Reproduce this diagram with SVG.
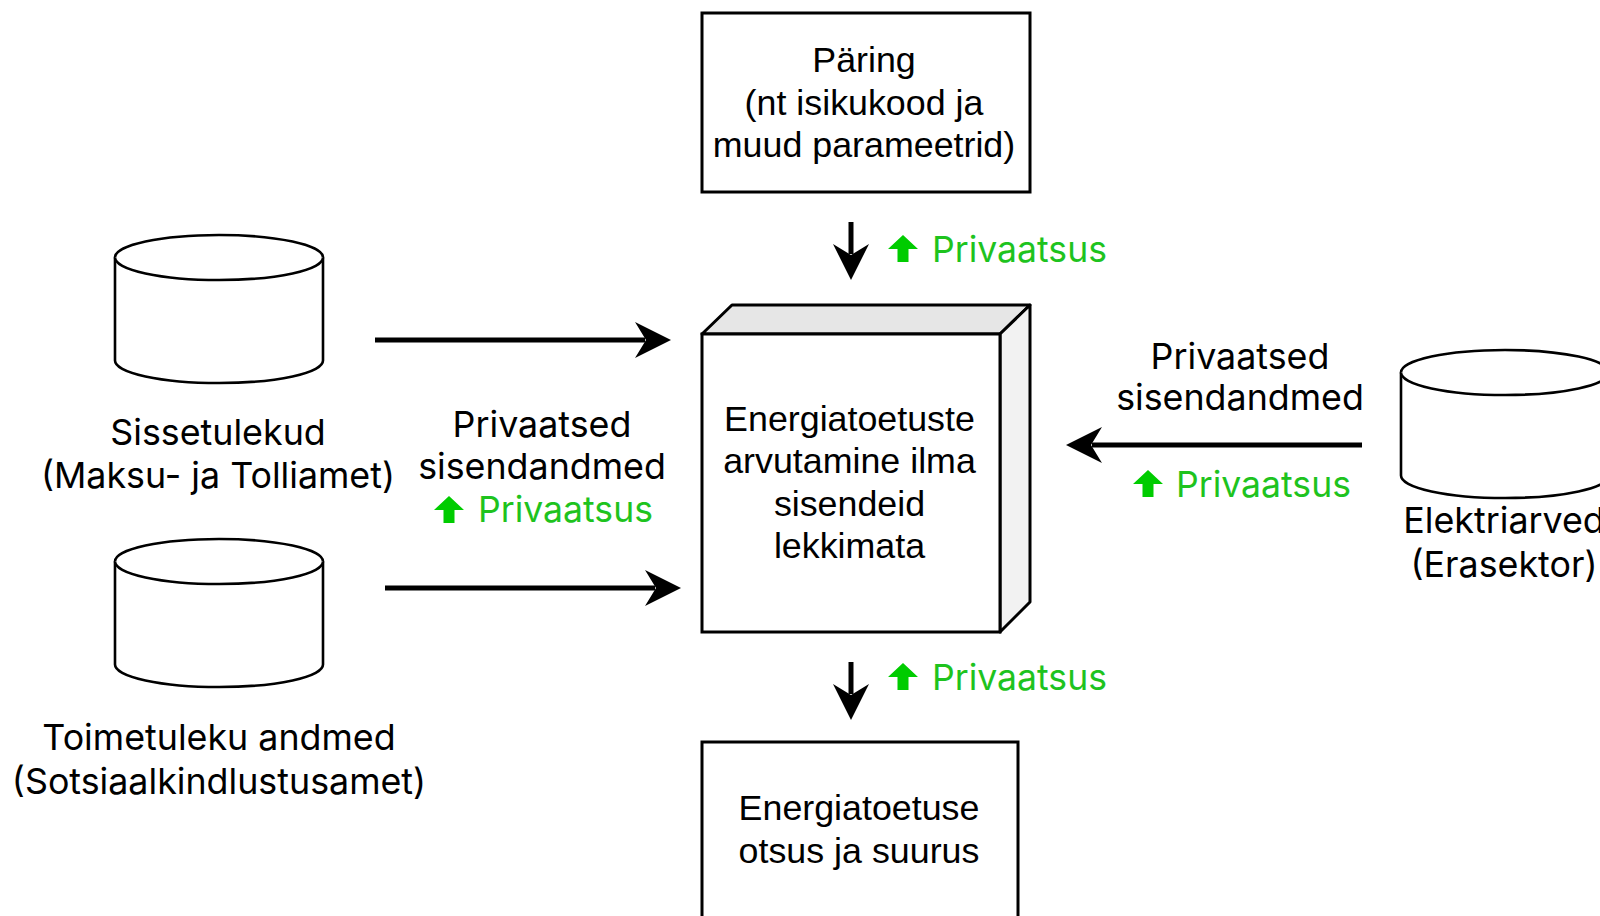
<svg xmlns="http://www.w3.org/2000/svg" width="1600" height="916" viewBox="0 0 1600 916">
<defs>
<style>
.box{fill:#fff;stroke:#000;stroke-width:3}
.cyl{fill:#fff;stroke:#000;stroke-width:2.6}
.bt{font-family:"Liberation Sans",Arial,sans-serif;font-size:35.8px;fill:#000;text-anchor:middle}
.lt{font-family:Inter,"Noto Sans",sans-serif;font-size:35.8px;fill:#000;text-anchor:middle}
.gt{font-family:Inter,"Noto Sans",sans-serif;font-size:35.6px;fill:#1ec31e}
.gi{fill:#00cc00}
.conn{stroke:#000;stroke-width:5;fill:none;marker-end:url(#ah)}
</style>
<marker id="ah" viewBox="0 0 36 36" refX="10" refY="18" markerWidth="36" markerHeight="36" markerUnits="userSpaceOnUse" orient="auto">
<path d="M0,0 L36,18 L0,36 L11,18 Z" fill="#000"/>
</marker>
<path id="up" d="M15,0 L30,14 L20.5,14 L20.5,27 L9.5,27 L9.5,14 L0,14 Z"/>
</defs>
<rect width="1600" height="916" fill="#fff"/>

<g id="query">
<rect class="box" x="702" y="13" width="328" height="179"/>
<text class="bt" x="864" y="72">Päring</text>
<text class="bt" x="864" y="115">(nt isikukood ja</text>
<text class="bt" x="864" y="157">muud parameetrid)</text>
</g>

<g id="compute">
<polygon points="702,334 732,305 1030,305 1000,334" fill="#e6e6e6" stroke="#000" stroke-width="3" stroke-linejoin="round"/>
<polygon points="1000,334 1030,305 1030,602 1000,632" fill="#f2f2f2" stroke="#000" stroke-width="3" stroke-linejoin="round"/>
<rect class="box" x="702" y="334" width="298" height="298"/>
<text class="bt" x="849.5" y="431">Energiatoetuste</text>
<text class="bt" x="849.5" y="473">arvutamine ilma</text>
<text class="bt" x="849.5" y="516">sisendeid</text>
<text class="bt" x="849.5" y="558">lekkimata</text>
</g>

<g id="result">
<rect class="box" x="702" y="742" width="316" height="190"/>
<text class="bt" x="859" y="820">Energiatoetuse</text>
<text class="bt" x="859" y="863">otsus ja suurus</text>
</g>

<g id="db-income">
<path class="cyl" d="M115,257.5 A104,22.5 0 0 1 323,257.5 V360.5 A104,22.5 0 0 1 115,360.5 Z"/>
<path class="cyl" fill="none" d="M115,257.5 A104,22.5 0 0 0 323,257.5"/>
<text class="lt" x="218" y="445">Sissetulekud</text>
<text class="lt" x="218" y="488">(Maksu- ja Tolliamet)</text>
</g>

<g id="db-subsistence">
<path class="cyl" d="M115,561.5 A104,22.5 0 0 1 323,561.5 V664.5 A104,22.5 0 0 1 115,664.5 Z"/>
<path class="cyl" fill="none" d="M115,561.5 A104,22.5 0 0 0 323,561.5"/>
<text class="lt" x="219" y="750">Toimetuleku andmed</text>
<text class="lt" x="219" y="794">(Sotsiaalkindlustusamet)</text>
</g>

<g id="db-electricity">
<path class="cyl" d="M1401,372.5 A104,22.5 0 0 1 1609,372.5 V475.5 A104,22.5 0 0 1 1401,475.5 Z"/>
<path class="cyl" fill="none" d="M1401,372.5 A104,22.5 0 0 0 1609,372.5"/>
<text class="lt" x="1504" y="533">Elektriarved</text>
<text class="lt" x="1504" y="577">(Erasektor)</text>
</g>

<g id="connectors">
<line class="conn" x1="851" y1="222" x2="851" y2="254"/>
<line class="conn" x1="375" y1="340" x2="645" y2="340"/>
<line class="conn" x1="385" y1="588" x2="655" y2="588"/>
<line class="conn" x1="1362" y1="445" x2="1092" y2="445"/>
<line class="conn" x1="851" y1="662" x2="851" y2="694"/>
</g>

<g id="labels">
<use href="#up" class="gi" x="888" y="235"/>
<text class="gt" x="932" y="262">Privaatsus</text>
<text class="lt" x="542" y="437">Privaatsed</text>
<text class="lt" x="542" y="479">sisendandmed</text>
<use href="#up" class="gi" x="434" y="496"/>
<text class="gt" x="478" y="522">Privaatsus</text>
<text class="lt" x="1240" y="369">Privaatsed</text>
<text class="lt" x="1240" y="410">sisendandmed</text>
<use href="#up" class="gi" x="1133" y="470"/>
<text class="gt" x="1176" y="497">Privaatsus</text>
<use href="#up" class="gi" x="888" y="663"/>
<text class="gt" x="932" y="690">Privaatsus</text>
</g>
</svg>
